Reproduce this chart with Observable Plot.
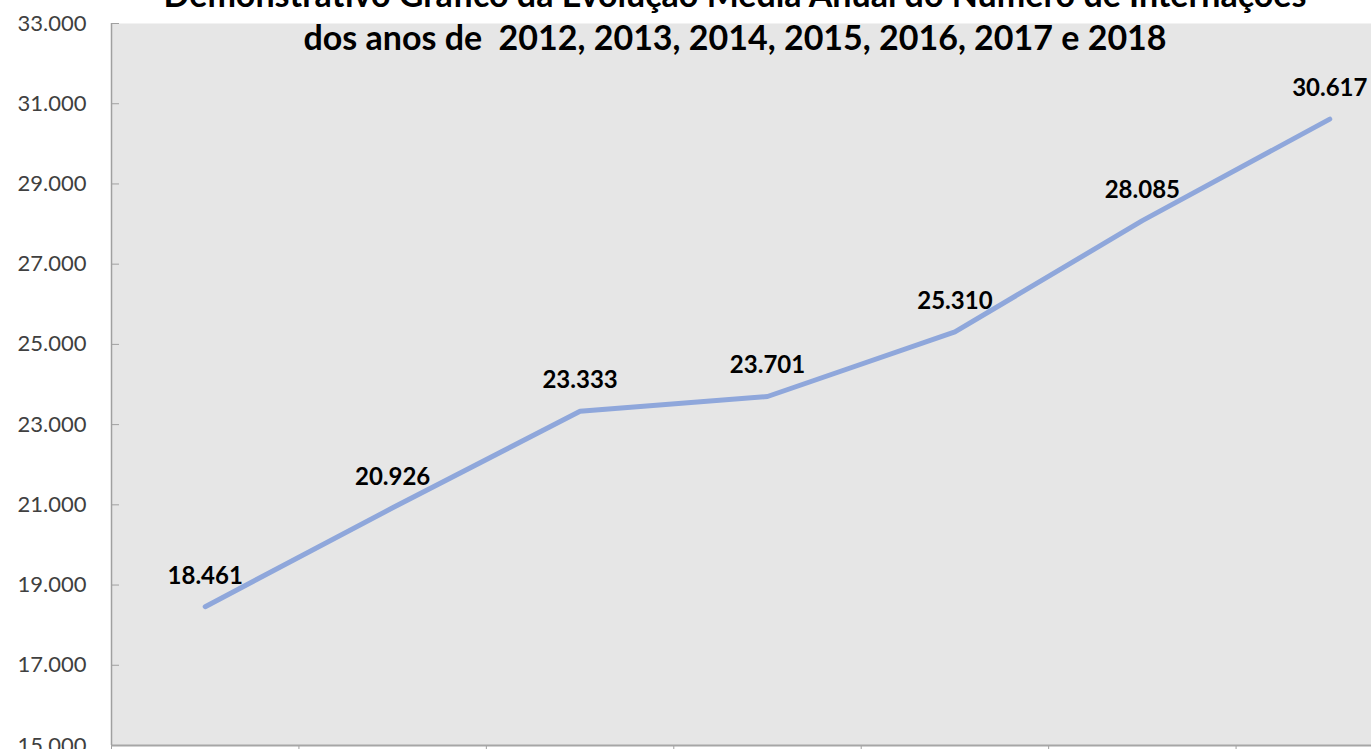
<!DOCTYPE html>
<html><head><meta charset="utf-8">
<script src="https://cdn.jsdelivr.net/npm/d3@7"></script>
<script src="https://cdn.jsdelivr.net/npm/@observablehq/plot@0.6"></script>
<style>
html,body{margin:0;padding:0;overflow:hidden;background:#fff;}
#wrap{position:relative;width:1371px;height:749px;overflow:hidden;}
#chart{position:absolute;left:0;top:0;width:1423px;}
#chart svg{max-width:none !important;}
#title{position:absolute;left:0;width:1470px;top:-28px;text-align:center;font-family:Lato,sans-serif;font-weight:bold;font-size:34px;line-height:43px;color:#000;white-space:pre;}
</style></head><body>
<div id="wrap"><div id="chart"></div><div id="title">Demonstrativo Gráfico da Evolução Média Anual do Número de Internações
dos anos de  2012, 2013, 2014, 2015, 2016, 2017 e 2018</div></div>
<script>
const years = ["2012", "2013", "2014", "2015", "2016", "2017", "2018"];
const values = [18461, 20926, 23333, 23701, 25310, 28085, 30617];
const yTicks = [15000, 17000, 19000, 21000, 23000, 25000, 27000, 29000, 31000, 33000];

const fmt = d3.formatLocale({decimal: ",", thousands: ".", grouping: [3], currency: ["R$", ""]}).format(",d");
const data = years.map((year, i) => ({i, year, value: values[i]}));
const bounds = d3.range(-0.5, years.length, 1);

const chart = Plot.plot({
  width: 1423,
  height: 749,
  marginLeft: 111,
  marginRight: 0,
  marginTop: 23,
  marginBottom: 4,
  style: {fontFamily: "Lato, sans-serif", background: "transparent", overflow: "visible", maxWidth: "none"},
  x: {domain: [-0.5, years.length - 0.5], axis: null},
  y: {domain: [15000, 33000], axis: null},
  marks: [
    Plot.frame({fill: "#e6e6e6", stroke: null}),
    Plot.axisY({ticks: yTicks, tickSize: 8, dx: 8, tickFormat: () => "", stroke: "#a0a0a0", label: null}),
    Plot.axisY({ticks: yTicks, tickSize: 0, tickPadding: 25, tickFormat: fmt, fontSize: 22, color: "#404040", label: null}),
    Plot.axisX({ticks: bounds, tickSize: 5, tickFormat: () => "", stroke: "#a0a0a0", label: null}),
    Plot.ruleY([15000], {stroke: "#a6a6a6", strokeWidth: 2}),
    Plot.ruleX([-0.5], {stroke: "#a0a0a0", strokeWidth: 1.5}),
    Plot.line(data, {x: "i", y: "value", stroke: "#8FA7DB", strokeWidth: 5, strokeLinecap: "round", strokeLinejoin: "round"}),
    Plot.text(data, {x: "i", y: "value", text: d => fmt(d.value), dy: -23, lineAnchor: "bottom", fontSize: 24, fontWeight: "bold", fill: "#000"})
  ]
});
document.getElementById("chart").appendChild(chart);
</script>
</body></html>
